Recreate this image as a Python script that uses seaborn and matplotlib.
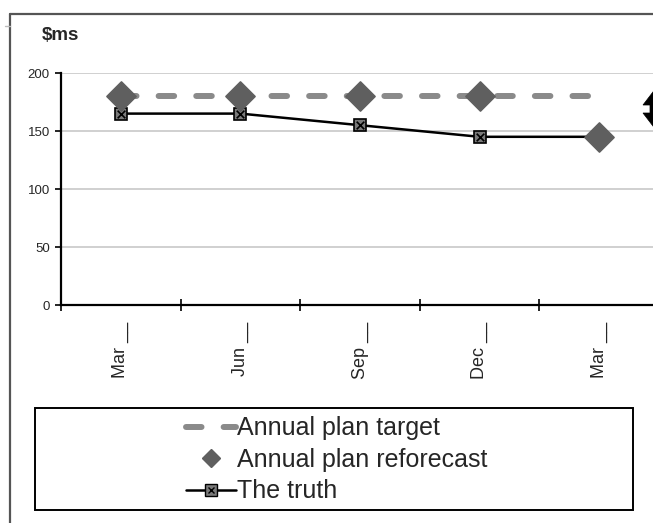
"""Annual plan vs reforecast vs the truth ($ms), Excel-style line chart."""
import numpy as np
import pandas as pd
import matplotlib
matplotlib.use("Agg")
import matplotlib.pyplot as plt
from matplotlib.lines import Line2D
from matplotlib.patches import Rectangle, Polygon
from matplotlib.legend_handler import HandlerTuple
import seaborn as sns

# ---- data ----
months = ["Mar __", "Jun __", "Sep __", "Dec __", "Mar __"]
plan_target = [180, 180, 180, 180, 180]
plan_reforecast = [180, 180, 180, 180, 145]
the_truth = [165, 165, 155, 145, 145]
y_ticks = [0, 50, 100, 150, 200]

INK = "black"
TARGET = "#8a8a8a"
DIAMOND = "#5f5f5f"
GRID = "#c8c8c8"

sns.set_style("white")
plt.rcParams["font.family"] = ["Liberation Sans", "DejaVu Sans"]

df = pd.DataFrame({"x": np.arange(len(months)), "target": plan_target,
                   "reforecast": plan_reforecast, "truth": the_truth})

W, H = 653, 523


def fpx(x, y):
    # pixel position measured from the top-left -> figure fraction
    return x / W, 1 - y / H


fig = plt.figure(figsize=(W / 100, H / 100), dpi=100)
# plot area runs a little past the right edge, as in the cropped original
ax = fig.add_axes([61 / W, (H - 305) / H, (659 - 61) / W, (305 - 73) / H])

sns.lineplot(data=df, x="x", y="target", ax=ax, color=TARGET, lw=4.3,
             dashes=False, legend=False, zorder=2)
ax.lines[-1].set_dashes((2.6, 3.7))
ax.lines[-1].set_dash_capstyle("round")
sns.lineplot(data=df, x="x", y="truth", ax=ax, color=INK, lw=1.8,
             marker="s", markersize=8, markerfacecolor="#7a7a7a",
             markeredgecolor=INK, markeredgewidth=1.2, legend=False, zorder=3)
sns.scatterplot(data=df, x="x", y="truth", ax=ax, marker="x", s=30,
                color=INK, linewidth=1.2, legend=False, zorder=4)
sns.scatterplot(data=df, x="x", y="reforecast", ax=ax, marker="D", s=220,
                color=DIAMOND, edgecolor=DIAMOND, legend=False, zorder=5)

ax.set_xlim(-0.5, len(months) - 0.5)
ax.set_ylim(0, 200)
ax.set_yticks(y_ticks)
ax.set_yticklabels([str(v) for v in y_ticks], fontsize=9.5)
ax.set_xticks(np.arange(len(months) + 1) - 0.5)
ax.set_xticklabels([])
ax.set_xticks(np.arange(len(months)), minor=True)
ax.set_xticklabels(months, minor=True, rotation=90, fontsize=13)
ax.tick_params(axis="x", which="major", bottom=True, direction="inout",
               length=9, width=1.2, color=INK)
ax.tick_params(axis="x", which="minor", bottom=True, length=0, pad=12)
ax.tick_params(axis="y", direction="out", length=4, width=1.2, color=INK, pad=4, left=True)
ax.set_xlabel("")
ax.set_ylabel("")
ax.yaxis.grid(True, color=GRID, lw=1.2)
ax.set_axisbelow(True)
for side in ("top", "right"):
    ax.spines[side].set_visible(False)
for side in ("left", "bottom"):
    ax.spines[side].set_color(INK)
    ax.spines[side].set_linewidth(1.6)

fig.text(*fpx(42, 35), r"\$ms", fontsize=13.5, fontweight="bold", va="center")

# outer chart frame (top and left edges only are in view)
fig.add_artist(Line2D([10 / W, 1], [1 - 14 / H, 1 - 14 / H], color="#555555", lw=1.6))
fig.add_artist(Line2D([10 / W, 10 / W], [0, 1 - 14 / H], color="#555555", lw=1.6))
fig.add_artist(Line2D([5 / W, 10 / W], [1 - 26 / H, 1 - 26 / H], color="#bbbbbb", lw=1))

# up-down block arrow, cut by the right edge
arrow_px = [(656, 88), (669, 105), (662, 105), (662, 113), (669, 113), (656, 130),
            (643, 113), (650, 113), (650, 105), (643, 105)]
fig.add_artist(Polygon([fpx(x, y) for x, y in arrow_px], closed=True,
                       transform=fig.transFigure, fc=INK, ec=INK, lw=0.5))

# legend box
fig.add_artist(Rectangle(fpx(35, 510), (633 - 35) / W, (510 - 408) / H,
                         transform=fig.transFigure, fill=False, ec=INK, lw=1.4))
h_target = Line2D([], [], color=TARGET, lw=4.3, dashes=(2.6, 3.7), dash_capstyle="round")
h_ref = Line2D([], [], color=DIAMOND, marker="D", markersize=9, ls="none")
h_line = Line2D([], [], color=INK, lw=1.8)
h_sq = Line2D([], [], color=INK, marker="s", markersize=8, markerfacecolor="#7a7a7a",
              markeredgecolor=INK, ls="none")
h_x = Line2D([], [], color=INK, marker="x", markersize=5, ls="none")
fig.legend([h_target, h_ref, (h_line, h_sq, h_x)],
           ["Annual plan target", "Annual plan reforecast", "The truth"],
           handler_map={tuple: HandlerTuple(ndivide=1, pad=0)},
           loc="upper left", bbox_to_anchor=fpx(173, 404),
           frameon=False, fontsize=18, handlelength=2.0, handletextpad=0.05,
           labelspacing=0.3, borderpad=0.0)

fig.savefig("out.png", dpi=100)
